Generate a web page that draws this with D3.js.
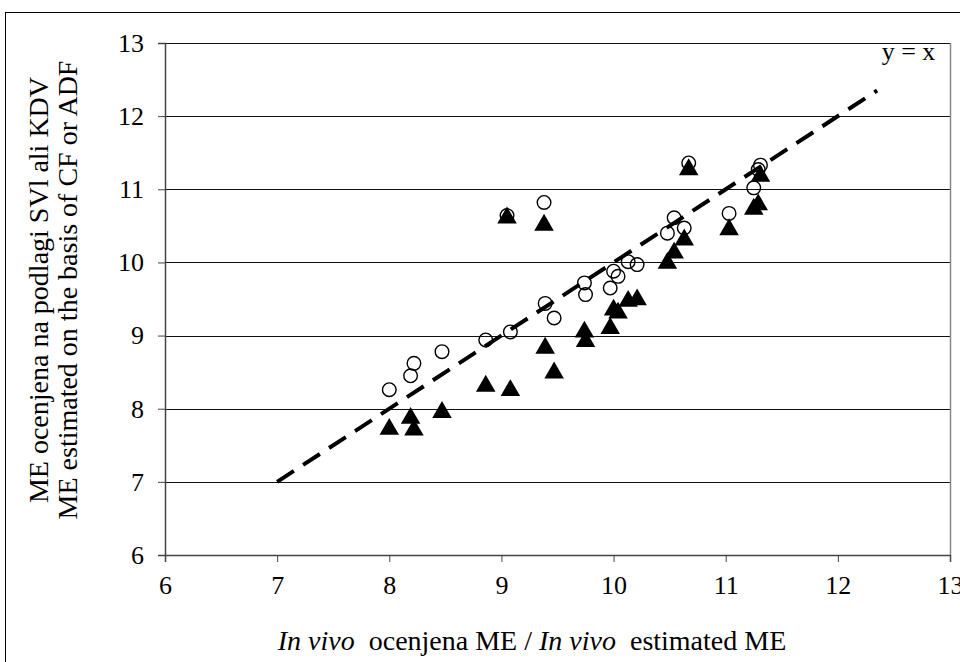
<!DOCTYPE html>
<html>
<head>
<meta charset="utf-8">
<script src="https://cdn.jsdelivr.net/npm/d3@7"></script>
<style>
  body { margin: 0; background: #fff; }
  svg text { font-family: "Liberation Serif", "Times New Roman", serif; fill: #000; }
</style>
</head>
<body>
<div id="chart"></div>
<script>
// in vivo ME (x) shared by both series
var invivo = [8.0, 8.19, 8.22, 8.47, 8.86, 9.08, 9.05, 9.38, 9.39, 9.47, 9.74, 9.75, 9.97,
    10.0, 10.04, 10.13, 10.21, 10.48, 10.54, 10.63, 10.67, 11.03, 11.25, 11.29, 11.31];
// ME estimated from CF (open circles)
var meCircle = [8.26, 8.45, 8.62, 8.78, 8.94, 9.05, 10.64, 10.82, 9.44, 9.24, 9.72, 9.56, 9.65,
    9.88, 9.81, 10.01, 9.97, 10.40, 10.61, 10.47, 11.36, 10.67, 11.02, 11.27, 11.33];
// ME estimated from ADF (filled triangles)
var meTriangle = [7.72, 7.87, 7.71, 7.95, 8.31, 8.25, 10.61, 10.51, 8.83, 8.49, 9.05, 8.92, 9.10,
    9.35, 9.31, 9.47, 9.49, 9.99, 10.13, 10.31, 11.27, 10.45, 10.73, 10.79, 11.18];
var xTicks = [6, 7, 8, 9, 10, 11, 12, 13];
var yTicks = [6, 7, 8, 9, 10, 11, 12, 13];
var refLine = [[7, 7], [12.35, 12.35]];

var w = 960;
var h = 662;
var padL = 165, padR = 950, padT = 43, padB = 555;
var serif = "'Liberation Serif', 'Times New Roman', serif";

var svg = d3.select("#chart").append("svg").attr("width", w).attr("height", h);

// outer frame
svg.append("rect")
    .attr("x", 5.5).attr("y", 12.5)
    .attr("width", 1000).attr("height", 700)
    .attr("fill", "none").attr("stroke", "#000").attr("stroke-width", 1);

var xScale = d3.scaleLinear().domain([6, 13]).range([padL, padR]);
var yScale = d3.scaleLinear().domain([6, 13]).range([padB, padT]);

// gridlines
svg.append("g").selectAll("line")
    .data(yTicks.slice(1))
    .enter().append("line")
    .attr("x1", padL).attr("x2", padR)
    .attr("y1", function(d) { return Math.round(yScale(d)) + 0.5; })
    .attr("y2", function(d) { return Math.round(yScale(d)) + 0.5; })
    .attr("stroke", "#111").attr("stroke-width", 1);

// right border of plot area
svg.append("line")
    .attr("x1", padR + 0.5).attr("x2", padR + 0.5)
    .attr("y1", padT).attr("y2", padB)
    .attr("stroke", "#888").attr("stroke-width", 1.5);

// axes
var xAxis = d3.axisBottom(xScale).tickValues(xTicks).tickFormat(d3.format("d")).tickSize(7).tickPadding(14);
var gx = svg.append("g").attr("transform", "translate(0," + padB + ")").call(xAxis);
var yAxis = d3.axisLeft(yScale).tickValues(yTicks).tickFormat(d3.format("d")).tickSize(7).tickPadding(14);
var gy = svg.append("g").attr("transform", "translate(" + padL + ",0)").call(yAxis);

[gx, gy].forEach(function(g) {
    g.attr("font-family", null).attr("font-size", null);
    g.select(".domain").attr("stroke", "#444").attr("stroke-width", 1.5);
    g.selectAll(".tick line").attr("stroke", "#444");
    g.selectAll(".tick text")
        .style("font-family", serif)
        .style("font-size", "26px").attr("fill", "#000");
});

// y = x reference line
svg.append("path")
    .attr("d", d3.line().x(function(d) { return xScale(d[0]); }).y(function(d) { return yScale(d[1]); })(refLine))
    .attr("fill", "none").attr("stroke", "#000").attr("stroke-width", 4)
    .attr("stroke-dasharray", "20,11");

svg.append("text")
    .attr("x", xScale(12.63)).attr("y", yScale(12.77))
    .attr("text-anchor", "middle").style("font-size", "26px")
    .text("y = x");

// triangles
var tri = d3.symbol().type(d3.symbolTriangle).size(165);
svg.append("g").selectAll("path")
    .data(invivo)
    .enter().append("path")
    .attr("d", tri)
    .attr("transform", function(d, i) {
        return "translate(" + xScale(d) + "," + yScale(meTriangle[i]) + ")";
    })
    .attr("fill", "#000");

// circles
svg.append("g").selectAll("circle")
    .data(invivo)
    .enter().append("circle")
    .attr("cx", function(d) { return xScale(d); })
    .attr("cy", function(d, i) { return yScale(meCircle[i]); })
    .attr("r", 6.8)
    .attr("fill", "none").attr("stroke", "#000").attr("stroke-width", 1.4);

// axis titles
var xt = svg.append("text")
    .attr("x", 532).attr("y", 650)
    .attr("text-anchor", "middle").style("font-size", "28px")
    .attr("xml:space", "preserve");
xt.append("tspan").attr("font-style", "italic").text("In vivo");
xt.append("tspan").text("  ocenjena ME / ");
xt.append("tspan").attr("font-style", "italic").text("In vivo");
xt.append("tspan").text("  estimated ME");

var yt = svg.append("text")
    .attr("transform", "translate(48,290) rotate(-90)")
    .attr("text-anchor", "middle").style("font-size", "28px");
yt.append("tspan").attr("x", 0).attr("y", 0).text("ME ocenjena na podlagi SVl ali KDV");
yt.append("tspan").attr("x", 0).attr("y", 29).text("ME estimated on the basis of CF or ADF");
</script>
</body>
</html>
